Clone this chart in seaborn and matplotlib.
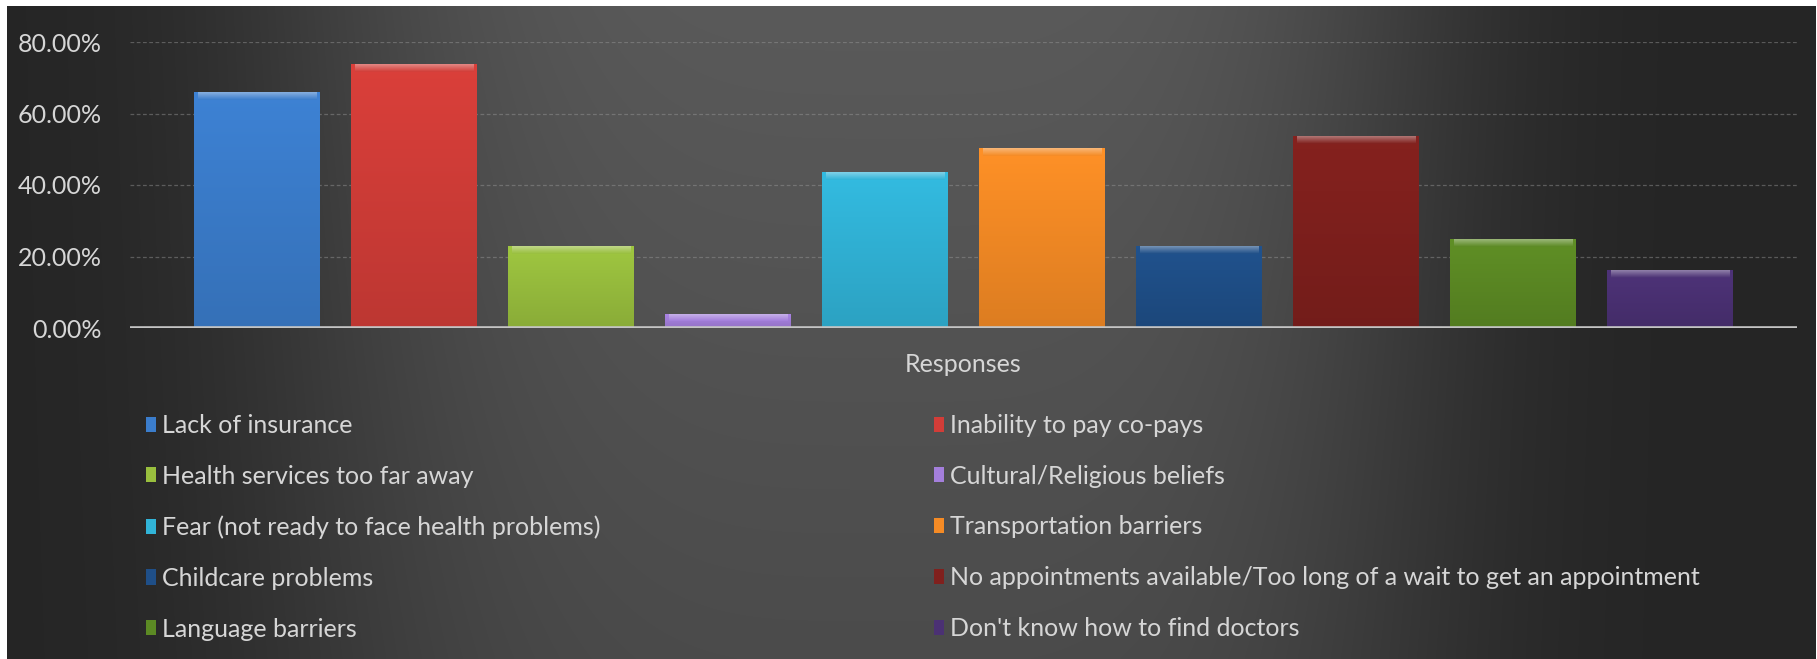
import numpy as np
import pandas as pd
import matplotlib
matplotlib.use("Agg")
import matplotlib.pyplot as plt
import matplotlib.colors as mcolors
from matplotlib.patches import Patch
from matplotlib.ticker import FuncFormatter
import seaborn as sns

# Survey results: share of respondents citing each barrier (%)
category = "Responses"
responses = [
    "Lack of insurance",
    "Inability to pay co-pays",
    "Health services too far away",
    "Cultural/Religious beliefs",
    "Fear (not ready to face health problems)",
    "Transportation barriers",
    "Childcare problems",
    "No appointments available/Too long of a wait to get an appointment",
    "Language barriers",
    "Don't know how to find doctors",
]
shares = [65.9, 73.8, 22.9, 3.9, 43.6, 50.3, 22.9, 53.7, 24.9, 16.2]
bar_colors = [
    "#3b7dcc", "#d23d38", "#99bf3e", "#a47fdc", "#31b4d8",
    "#f58b25", "#1f4f88", "#80201d", "#5c8a24", "#4b3174",
]
y_ticks = [0, 20, 40, 60, 80]

sns.set_theme(style="dark")
plt.rcParams["font.family"] = ["Lato", "DejaVu Sans"]
text_color = "#d6d6d6"
font_size = 18

W, H = 1817, 659
fig = plt.figure(figsize=(W / 100, H / 100), dpi=100)
fig.patch.set_facecolor("white")

# Dark backdrop with a soft lighter glow towards the centre
bg = fig.add_axes([7 / W, 0, 1 - 9 / W, 1 - 6 / H])
gx = np.linspace(0, 1, 900)
gy = np.linspace(0, 1, 330)
X, Y = np.meshgrid(gx, gy)
d = X - 0.49
w = np.where(d < 0, 0.34, 0.30)
glow = np.exp(-(np.abs(d) / w) ** 4) * (1 - 0.28 * Y)
shade = (37 + 53 * glow) / 255.0
bg.imshow(np.dstack([shade, shade, shade]), aspect="auto", extent=(0, 1, 0, 1),
          interpolation="bilinear")
bg.set_axis_off()

left, right = 130 / W, 1797 / W
bottom, top = 1 - 328 / H, 1 - 42 / H
ax = fig.add_axes([left, bottom, right - left, top - bottom])
ax.set_facecolor("none")

df = pd.DataFrame({"category": [category] * len(responses),
                   "response": responses,
                   "share": shares})
sns.barplot(data=df, x="category", y="share", hue="response",
            hue_order=responses, palette=bar_colors, saturation=1,
            width=0.942, gap=0.2, linewidth=0, legend=False, ax=ax, zorder=3)

# Bevelled look: vertical shading plus a soft bright rim along the top
for patch, col in zip(ax.patches, bar_colors):
    x0, bw, bh = patch.get_x(), patch.get_width(), patch.get_height()
    rgb = np.array(mcolors.to_rgb(col))
    t = np.linspace(0, 1, 64)[:, None]
    grad = np.clip(rgb[None, :] * (1.04 - 0.14 * t), 0, 1)[:, None, :]
    im = ax.imshow(grad, extent=(x0, x0 + bw, 0, bh), aspect="auto",
                   origin="upper", zorder=4, interpolation="bilinear")
    im.set_clip_path(patch)
    rim_h = min(2.2, bh * 0.5)
    tt = np.linspace(0, 1, 16)[:, None]
    rim = np.clip(rgb[None, :] + (1 - rgb[None, :]) * (0.38 * (1 - tt)), 0, 1)
    rim = rim[:, None, :]
    ax.imshow(rim, extent=(x0 + bw * 0.03, x0 + bw * 0.97, bh - rim_h, bh),
              aspect="auto", origin="upper", zorder=5, interpolation="bilinear")

ax.set_xlim(-0.5, 0.5)
ax.set_ylim(0, 80)
ax.set_yticks(y_ticks)
ax.yaxis.set_major_formatter(FuncFormatter(lambda v, _: f"{v:.2f}%"))
ax.set_xlabel("")
ax.set_ylabel("")
ax.tick_params(axis="y", length=0, pad=20, labelsize=font_size,
               labelcolor=text_color)
ax.tick_params(axis="x", length=0, pad=18, labelsize=font_size,
               labelcolor=text_color)
ax.yaxis.grid(True, color="#9a9a9a", linestyle=(0, (3, 2)), linewidth=0.9,
              alpha=0.45, zorder=1)
ax.xaxis.grid(False)
for s in ax.spines.values():
    s.set_visible(False)
ax.axhline(0, color="#c4c4c4", lw=2.6, zorder=6)

# Two-column legend, read row by row
handles = [Patch(facecolor=c, edgecolor="none") for c in bar_colors]
legend_kw = dict(frameon=False, fontsize=font_size, labelcolor=text_color,
                 handlelength=0.4, handleheight=0.55, handletextpad=0.25,
                 labelspacing=1.11, borderpad=0, borderaxespad=0,
                 loc="upper left")
leg1 = fig.legend([handles[i] for i in range(0, 10, 2)],
                  [responses[i] for i in range(0, 10, 2)],
                  bbox_to_anchor=(146 / W, 1 - 414 / H), **legend_kw)
leg2 = fig.legend([handles[i] for i in range(1, 10, 2)],
                  [responses[i] for i in range(1, 10, 2)],
                  bbox_to_anchor=(934 / W, 1 - 414 / H), **legend_kw)

fig.savefig("out.png", dpi=100, facecolor=fig.get_facecolor())
